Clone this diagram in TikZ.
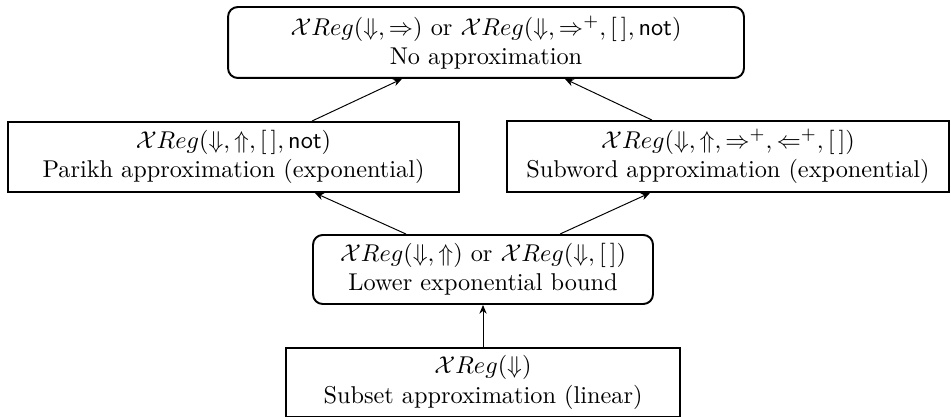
\documentclass[tikz,border=0pt]{standalone}
\usetikzlibrary{arrows.meta}
\begin{document}
\begin{tikzpicture}[x=0.4115pt,y=-0.4115pt,
  box/.style={draw,line width=0.8pt,align=center,inner sep=0pt},
  rbox/.style={box,rounded corners=4pt},
  arr/.style={-{Stealth[length=3.6pt,width=3pt]},line width=0.4pt}]
\useasboundingbox (0,0) rectangle (951,417);
\node[rbox,minimum width=212.3pt,minimum height=29.2pt] (top) at (486,42.5)
  {$\mathcal{X}Reg(\Downarrow,\Rightarrow)$ or $\mathcal{X}Reg(\Downarrow,\Rightarrow^+,[\,],\mathsf{not})$\\No approximation};
\node[box,minimum width=185.6pt,minimum height=28.8pt] (left) at (233.5,157)
  {$\mathcal{X}Reg(\Downarrow,\Uparrow,[\,],\mathsf{not})$\\Parikh approximation (exponential)};
\node[box,minimum width=181.9pt,minimum height=29.2pt] (right) at (728,156.5)
  {$\mathcal{X}Reg(\Downarrow,\Uparrow,\Rightarrow^+,\Leftarrow^+,[\,])$\\Subword approximation (exponential)};
\node[rbox,minimum width=139.9pt,minimum height=28.4pt] (low) at (483,269.5)
  {$\mathcal{X}Reg(\Downarrow,\Uparrow)$ or $\mathcal{X}Reg(\Downarrow,[\,])$\\Lower exponential bound};
\node[box,minimum width=162.1pt,minimum height=28.4pt] (bot) at (483,382.5)
  {$\mathcal{X}Reg(\Downarrow)$\\Subset approximation (linear)};
\draw[arr] ([xshift=32.3pt]left.north) -- ([xshift=-34.6pt]top.south);
\draw[arr] ([xshift=-31.3pt]right.north) -- ([xshift=32.5pt]top.south);
\draw[arr] ([xshift=-31.7pt]low.north) -- ([xshift=33.5pt]left.south);
\draw[arr] ([xshift=31.7pt]low.north) -- ([xshift=-32.1pt]right.south);
\draw[arr] (bot.north) -- (low.south);
\end{tikzpicture}
\end{document}
